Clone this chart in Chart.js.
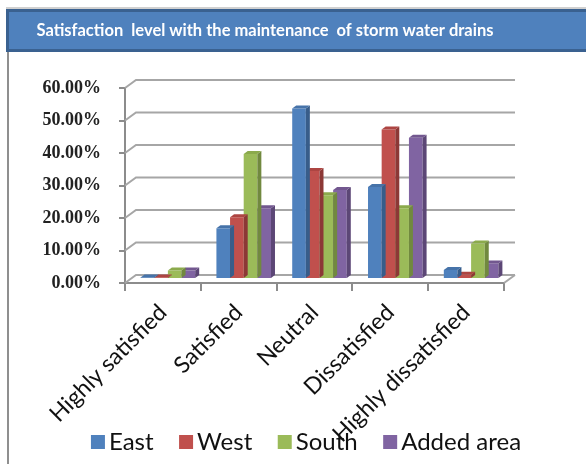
<!DOCTYPE html>
<html>
<head>
<meta charset="utf-8">
<script src="https://cdn.jsdelivr.net/npm/chart.js@4.4.1/dist/chart.umd.min.js"></script>
<style>
  html, body { margin: 0; padding: 0; background: #ffffff; }
  #wrap { width: 586px; height: 464px; }
</style>
</head>
<body>
<div id="wrap"><canvas id="c" width="586" height="464"></canvas></div>
<script>
const titleText = 'Satisfaction  level with the maintenance  of storm water drains';
const categories = ['Highly satisfied', 'Satisfied', 'Neutral', 'Dissatisfied', 'Highly dissatisfied'];
const seriesNames = ['East', 'West', 'South', 'Added area'];
const east      = [0.5, 15.6, 52.5, 28.3, 2.8];
const west      = [0.5, 19.0, 33.2, 46.0, 1.3];
const south     = [2.6, 38.5, 25.8, 21.8, 10.9];
const addedArea = [2.6, 21.8, 27.4, 43.5, 4.8];
const yTicks    = [0, 10, 20, 30, 40, 50, 60];

const frontColors = ['#4F81BD', '#C0504D', '#9BBB59', '#8064A2'];
const sideColors  = ['#385D8A', '#8C3836', '#71893F', '#5C4776'];
const topColors   = ['#4673A9', '#AD4542', '#8BAA4C', '#72578F'];

// depth of the back wall and of the bar row behind the front plane
const WALL_DX = 11, WALL_DY = 8;
const ROW_DX = 5, ROW_DY = 4;
const BAR_DX = 4, BAR_DY = 3;

const seriesValues = [east, west, south, addedArea];

function poly(ctx, pts, fill) {
  ctx.beginPath();
  ctx.moveTo(pts[0][0], pts[0][1]);
  for (let i = 1; i < pts.length; i++) ctx.lineTo(pts[i][0], pts[i][1]);
  ctx.closePath();
  ctx.fillStyle = fill;
  ctx.fill();
}

const depthPlugin = {
  id: 'depth',
  beforeDraw(chart) {
    const ctx = chart.ctx;
    ctx.save();
    // outer frame edge
    ctx.strokeStyle = '#8f8f8f';
    ctx.lineWidth = 2;
    ctx.beginPath();
    ctx.moveTo(8, 50);
    ctx.lineTo(8, 464);
    ctx.stroke();
    // title band
    ctx.fillStyle = '#d0d0d0';
    ctx.fillRect(6, 7, 586, 2);
    ctx.fillStyle = '#3A6190';
    ctx.fillRect(6, 9, 586, 43);
    ctx.fillStyle = '#4F81BD';
    ctx.fillRect(9, 12, 586, 37);
    ctx.fillStyle = '#ffffff';
    ctx.font = 'bold 16.5px Lato';
    ctx.textAlign = 'center';
    ctx.textBaseline = 'middle';
    ctx.fillText(titleText, 265, 31);
    ctx.restore();
  },
  beforeDatasetsDraw(chart) {
    const { ctx, chartArea: a, scales: { y } } = chart;
    ctx.save();
    ctx.strokeStyle = '#a6a6a6';
    ctx.lineWidth = 2;
    yTicks.forEach(v => {
      const py = y.getPixelForValue(v);
      ctx.beginPath();
      ctx.moveTo(a.left, py);
      ctx.lineTo(a.left + WALL_DX, py - WALL_DY);
      ctx.lineTo(a.right + WALL_DX, py - WALL_DY);
      ctx.stroke();
    });
    ctx.beginPath();
    ctx.moveTo(a.right, a.bottom);
    ctx.lineTo(a.right + WALL_DX, a.bottom - WALL_DY);
    ctx.stroke();
    ctx.restore();
    // bars sit halfway back on the floor
    ctx.save();
    ctx.translate(ROW_DX, -ROW_DY);
  },
  afterDatasetDraw(chart, args) {
    const ctx = chart.ctx;
    const i = args.index;
    args.meta.data.forEach(el => {
      const p = el.getProps(['x', 'y', 'base', 'width'], true);
      const l = p.x - p.width / 2, r = p.x + p.width / 2;
      poly(ctx, [[r, p.y], [r + BAR_DX, p.y - BAR_DY], [r + BAR_DX, p.base - BAR_DY], [r, p.base]], sideColors[i]);
      poly(ctx, [[l, p.y], [l + BAR_DX, p.y - BAR_DY], [r + BAR_DX, p.y - BAR_DY], [r, p.y]], topColors[i]);
    });
  },
  afterDatasetsDraw(chart) {
    const ctx = chart.ctx;
    ctx.restore();
    // legend
    ctx.save();
    ctx.font = '24px Lato';
    ctx.textBaseline = 'middle';
    ctx.textAlign = 'left';
    const box = 14, gapText = 4, gapItem = 25.5;
    const items = chart.data.datasets.map((ds, k) => ({ label: ds.label, color: frontColors[k], w: ctx.measureText(ds.label).width }));
    const total = items.reduce((s, it) => s + box + gapText + it.w, 0) + gapItem * (items.length - 1);
    let x = 306 - total / 2;
    const cy = 442;
    items.forEach(it => {
      ctx.fillStyle = it.color;
      ctx.fillRect(x, cy - box / 2, box, box);
      ctx.fillStyle = '#111111';
      ctx.fillText(it.label, x + box + gapText, cy);
      x += box + gapText + it.w + gapItem;
    });
    ctx.restore();
  }
};

new Chart(document.getElementById('c'), {
  type: 'bar',
  data: {
    labels: categories,
    datasets: seriesNames.map((name, k) => ({
      label: name,
      data: seriesValues[k],
      backgroundColor: frontColors[k],
      borderWidth: 0,
      categoryPercentage: 0.72,
      barPercentage: 1.0,
      clip: false
    }))
  },
  options: {
    responsive: false,
    animation: false,
    devicePixelRatio: 1,
    layout: { padding: { left: 0, right: 82, top: 88, bottom: 0 } },
    plugins: {
      legend: { display: false },
      title: { display: false },
      tooltip: { enabled: false }
    },
    scales: {
      x: {
        offset: true,
        grid: { offset: true, drawOnChartArea: false, color: '#8c8c8c', lineWidth: 2, tickLength: 8 },
        border: { color: '#8c8c8c', width: 2 },
        ticks: {
          autoSkip: false, maxRotation: 45, minRotation: 45,
          font: { family: 'Lato', size: 23 }, color: '#111111', padding: 8
        },
        afterFit(s) { s.height = 181; }
      },
      y: {
        min: 0, max: 60,
        ticks: {
          stepSize: 10,
          callback: v => v.toFixed(2) + '%',
          font: { family: 'Liberation Serif', size: 18, weight: 'bold' },
          color: '#222222', padding: 18
        },
        grid: { drawOnChartArea: false, color: '#8c8c8c', lineWidth: 2, tickLength: 6 },
        border: { color: '#8c8c8c', width: 2 },
        afterFit(s) { s.width = 125; }
      }
    }
  },
  plugins: [depthPlugin]
});
</script>
</body>
</html>
